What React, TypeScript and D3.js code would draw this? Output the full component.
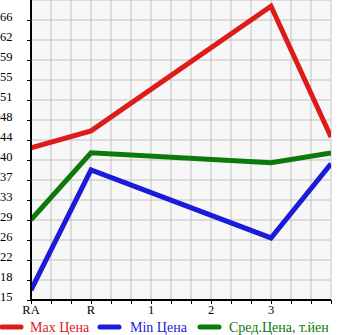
import React from "react";
import * as d3 from "d3";

const xLabels = ["RA", "R", "1", "2", "3"];
const yLabels = ["66", "62", "59", "55", "51", "48", "44", "40", "37", "33", "29", "26", "22", "18", "15"];
// x index positions: 0=RA,1=R,2="1",3="2",4="3",5=end
const maxX = [0, 1, 4, 5];
const maxVals = [42.7, 45.8, 68.5, 44.7];
const minX = [0, 1, 4, 5];
const minVals = [16.8, 38.7, 26.3, 39.8];
const avgX = [0, 1, 4, 5];
const avgVals = [29.6, 41.8, 40.0, 41.8];

const series = [
  { name: "Max Цена", xs: maxX, vals: maxVals, color: "#dd1b1b" },
  { name: "Min Цена", xs: minX, vals: minVals, color: "#1b1bd9" },
  { name: "Сред.Цена, т.йен", xs: avgX, vals: avgVals, color: "#0b7a0b" },
];

export default function App() {
  const W = 345, H = 335;
  const left = 31, right = 330, top = 0, bottom = 300;
  const x = d3.scaleLinear().domain([0, 5]).range([left, right + 1]);
  const y = d3.scaleLinear().domain([15, 66]).range([300, 20]);
  const gridX = d3.range(0, 16).map((i) => left + i * 20).filter((v) => v <= right + 1);
  const gridY = d3.range(0, 16).map((i) => i * 20).filter((v) => v <= bottom);
  const line = d3
    .line<[number, number]>()
    .x((d) => x(d[0]))
    .y((d) => y(d[1]));
  const legendPos = [
    { lx: 0, tx: 30 },
    { lx: 98, tx: 130 },
    { lx: 198, tx: 229 },
  ];
  return (
    <svg
      width={W}
      height={H}
      style={{ position: "absolute", left: 0, top: 0, background: "#fff" }}
      fontFamily="'Liberation Serif', serif"
    >
      <defs>
        <clipPath id="plot">
          <rect x={left} y={top} width={right - left + 1} height={bottom - top} />
        </clipPath>
      </defs>
      <rect x={left} y={top} width={right - left} height={bottom - top} fill="#f7f7f7" />
      {gridX.map((gx) => (
        <line key={"gx" + gx} x1={gx} x2={gx} y1={top} y2={bottom} stroke="#c0c0c0" strokeWidth={1} />
      ))}
      {gridY.map((gy) => (
        <line key={"gy" + gy} x1={left} x2={right} y1={gy} y2={gy} stroke="#c0c0c0" strokeWidth={1} />
      ))}
      <g clipPath="url(#plot)">
        {series.map((s) => (
          <path
            key={s.name}
            d={line(s.xs.map((xi, i) => [xi, s.vals[i]] as [number, number])) || ""}
            fill="none"
            stroke={s.color}
            strokeWidth={5}
            strokeLinejoin="miter"
          />
        ))}
      </g>
      {/* axes */}
      <line x1={left} x2={left} y1={top} y2={bottom + 1} stroke="#000" strokeWidth={2} />
      <line x1={left - 1} x2={right + 1} y1={bottom} y2={bottom} stroke="#000" strokeWidth={2} />
      {yLabels.map((lab, i) => {
        const yy = y(+yLabels[yLabels.length - 1]) - (yLabels.length - 1 - i) * 20;
        return (
          <g key={"yl" + i}>
            <line x1={left - 4} x2={left} y1={yy + 0.5} y2={yy + 0.5} stroke="#000" strokeWidth={1} />
            <text x={0} y={yy + 1} fontSize={12.5} fill="#000">
              {lab}
            </text>
          </g>
        );
      })}
      {gridX.map((gx) => (
        <line key={"tx" + gx} x1={gx + 0.5} x2={gx + 0.5} y1={bottom} y2={bottom + 4} stroke="#000" strokeWidth={1} />
      ))}
      {xLabels.map((lab, i) => (
        <text key={"xl" + i} x={x(i)} y={314} textAnchor="middle" fontSize={12.5} fill="#000">
          {lab}
        </text>
      ))}
      {series.map((s, i) => (
        <g key={"lg" + i}>
          <line
            x1={legendPos[i].lx + 2}
            x2={legendPos[i].lx + 21}
            y1={327}
            y2={327}
            stroke={s.color}
            strokeWidth={5}
            strokeLinecap="round"
          />
          <text x={legendPos[i].tx} y={332} fontSize={14} fill={s.color}>
            {s.name}
          </text>
        </g>
      ))}
    </svg>
  );
}
